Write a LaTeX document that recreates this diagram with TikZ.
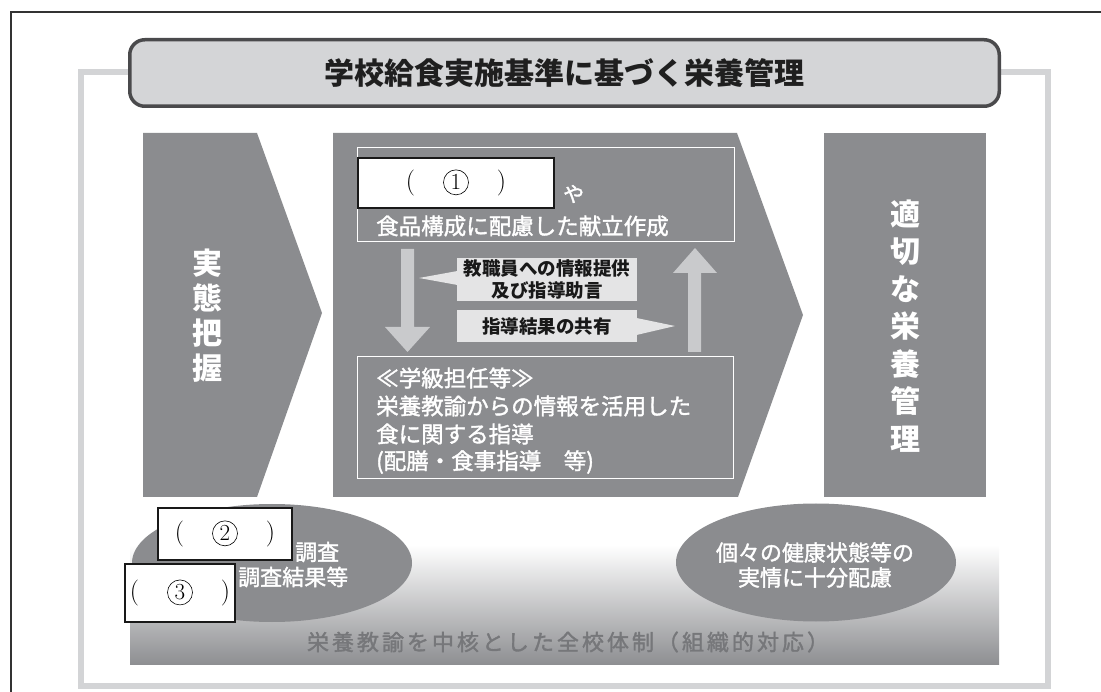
\documentclass[tikz,border=0pt]{standalone}
\usepackage{fontspec}
\newfontfamily\jp{Noto Sans CJK JP}
\newfontfamily\jpm[FakeBold=1.6]{Noto Sans CJK JP}
\usetikzlibrary{shapes.geometric}
\definecolor{dk}{HTML}{8B8C8F}
\definecolor{lt}{HTML}{C9CACC}
\definecolor{callbg}{HTML}{E4E4E5}
\definecolor{framegray}{HTML}{D3D4D6}
\definecolor{titlebg}{HTML}{D4D5D7}
\definecolor{titlebd}{HTML}{4A4A4C}
\definecolor{bartxt}{HTML}{76777A}
\definecolor{bargray}{HTML}{8E8F92}
\newcommand\cnum[1]{\tikz[baseline=(cnumtmp.base)]\node[draw=black,circle,line width=0.6pt,minimum size=25pt,inner sep=0pt](cnumtmp){\fontsize{23}{23}\selectfont #1};}
\def\spacedchars#1{\ifx#1\relax\else\hspace{3pt}#1\expandafter\spacedchars\fi}
\begin{document}
\begin{tikzpicture}[x=1pt,y=-1pt,
  titlebox/.style={draw=titlebd,line width=3.5pt,fill=titlebg,rounded corners=15pt,
    minimum width=869.5pt,minimum height=66.5pt,inner sep=0pt,text=black!88,
    font=\jp\bfseries\fontsize{30}{36}\selectfont},
  vtxt/.style={text=white,inner sep=0pt,align=center,font=\jp\bfseries\fontsize{30}{#1}\selectfont},
  wtxt/.style={text=white,inner sep=0pt,font=\jpm\fontsize{22.5}{27}\selectfont},
  etxt/.style={text=white,inner sep=0pt,align=center,font=\jpm\fontsize{22}{25}\selectfont},
  numbox/.style={draw=black!90,line width=1.8pt,fill=white,inner sep=0pt,font=\fontsize{26}{26}\selectfont},
  callbox/.style={fill=callbg,inner sep=0pt,align=center,text=black!90,font=\jp\bfseries\fontsize{18.5}{22}\selectfont},
  blob/.style={ellipse,fill=dk,minimum width=280pt,minimum height=118pt,inner sep=0pt},
  inbox/.style={draw=white,line width=1pt},
  lightarrow/.style={fill=lt}
]
\useasboundingbox (0,0) rectangle (1101,692);
% outer border
\draw[line width=1.2pt,black!80] (1101,12) -- (11,12) -- (11,692);
% light frame
\draw[framegray,line width=6pt] (81,72) rectangle (1048,686);
% title
\node[titlebox] (title) at (564.5,73) {学校給食実施基準に基づく栄養管理};
% left chevron
\fill[dk] (143,133) -- (257,133) -- (322,313) -- (257,497) -- (143,497) -- cycle;
\node[vtxt=35pt] (jittai) at (207,316) {実\\態\\把\\握};
% center pentagon
\fill[dk] (333,133) -- (737,133) -- (803,315) -- (738,497) -- (333,497) -- cycle;
% right box
\fill[dk] (824,133) rectangle (986,497);
\node[vtxt=37.5pt] (tekisetsu) at (905,326) {適\\切\\な\\栄\\養\\管\\理};
% inner boxes
\draw[inbox] (357,148) rectangle (734,242);
\draw[inbox] (357,357) rectangle (733,479);
\node[numbox,minimum width=196pt,minimum height=50pt] (n1) at (456,183) {(\hspace{28pt}\cnum{1}\hspace{28pt})};
\node[wtxt,anchor=west,font=\jpm\fontsize{21}{24}\selectfont] (ya) at (563,194) {や};
\node[wtxt,anchor=west] (kondate) at (376,226) {食品構成に配慮した献立作成};
\node[wtxt,anchor=west] (l1) at (376,378) {≪学級担任等≫};
\node[wtxt,anchor=west] (l2) at (376,406) {栄養教諭からの情報を活用した};
\node[wtxt,anchor=west] (l3) at (376,434) {食に関する指導};
\node[wtxt,anchor=west] (l4) at (376,462) {(配膳・食事指導　等)};
% arrows
\fill[lightarrow] (401,249) -- (414,249) -- (414,327) -- (430,327) -- (407.5,352) -- (385,327) -- (401,327) -- cycle;
\fill[lightarrow] (688,352) -- (701,352) -- (701,273) -- (717,273) -- (695,248) -- (673,273) -- (688,273) -- cycle;
% callouts
\node[callbox,minimum width=180pt,minimum height=43pt] (c1) at (547,279.5) {教職員への情報提供\\及び指導助言};
\fill[callbg] (457.5,271) -- (419,278) -- (457.5,285) -- cycle;
\node[callbox,minimum width=180pt,minimum height=32pt] (c2) at (547,326) {指導結果の共有};
\fill[callbg] (636.5,318) -- (675,326) -- (636.5,335) -- cycle;
% bottom bar
\shade[top color=white,bottom color=bargray] (130,545) rectangle (999,664);
\node[inner sep=0pt,text=bartxt,font=\jpm\fontsize{22}{25}\selectfont] (taisei) at (568,642) {栄\spacedchars 養教諭を中核とした全校体制（組織的対応）\relax};
% ellipses
\node[blob] (e1) at (272,563) {};
\node[etxt,anchor=west] (chousa) at (295,552) {調査};
\node[etxt,anchor=west] (kekka) at (238,577) {調査結果等};
\node[blob] (e2) at (816,562.5) {};
\node[etxt] (kenkou) at (815,565) {個々の健康状態等の\\実情に十分配慮};
\node[numbox,minimum width=134pt,minimum height=52pt] (n2) at (225,534) {(\hspace{28pt}\cnum{2}\hspace{28pt})};
\node[numbox,minimum width=110pt,minimum height=58pt] (n3) at (180,593) {(\hspace{28pt}\cnum{3}\hspace{28pt})};
\end{tikzpicture}
\end{document}
